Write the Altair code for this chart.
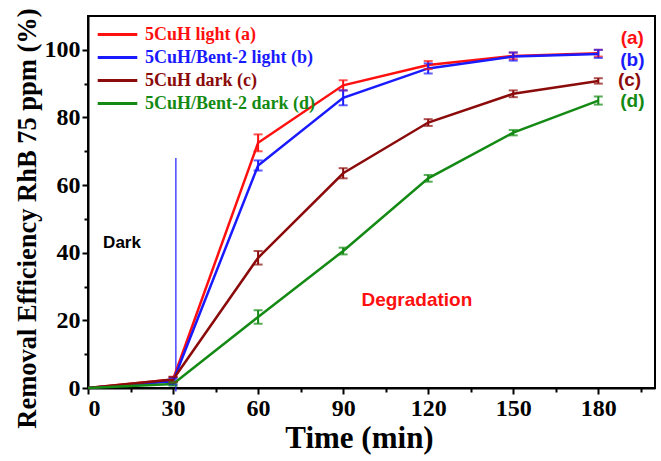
import altair as alt
import pandas as pd

time = [0, 30, 60, 90, 120, 150, 180]
series_names = ["5CuH light (a)", "5CuH/Bent-2 light (b)", "5CuH dark (c)", "5CuH/Bent-2 dark (d)"]
a_vals = [0, 2.5, 72.5, 89.5, 95.5, 98.2, 99.0]
a_err = [0, 0.8, 2.5, 1.5, 1.2, 1.0, 1.0]
b_vals = [0, 2.0, 65.8, 85.8, 94.5, 98.0, 98.8]
b_err = [0, 1.0, 1.5, 2.2, 1.5, 1.2, 1.2]
c_vals = [0, 2.5, 38.5, 63.5, 78.5, 87.0, 90.8]
c_err = [0, 0.8, 2.0, 1.5, 1.0, 1.0, 0.8]
d_vals = [0, 1.2, 21.0, 40.5, 62.0, 75.5, 85.0]
d_err = [0, 0.5, 2.0, 1.0, 1.0, 0.8, 1.2]
colors = ["#ff1010", "#1a1aff", "#8b0a0a", "#148a14"]

tags = ["(a)", "(b)", "(c)", "(d)"]
tag_x = [192, 192, 191, 192]
tag_y = [103.5, 97, 91, 85]

rows = []
for name, vals, errs in zip(series_names, [a_vals, b_vals, c_vals, d_vals], [a_err, b_err, c_err, d_err]):
    for t, v, e in zip(time, vals, errs):
        rows.append({"series": name, "time": t, "value": v, "lo": v - e, "hi": v + e})
df = pd.DataFrame(rows)
df_err = df[df["time"] > 0]

tag_df = pd.DataFrame({"tag": tags, "x": tag_x, "y": tag_y, "series": series_names})

color_scale = alt.Scale(domain=series_names, range=colors)
xs = alt.Scale(domain=[0, 200], nice=False)
ys = alt.Scale(domain=[0, 110], nice=False)

serif = "Liberation Serif"
sans = "Liberation Sans"

x_axis = alt.Axis(values=[0, 30, 60, 90, 120, 150, 180], title="Time (min)", labelFont=serif,
                  labelFontSize=24, labelFontWeight="bold", titleFont=serif, titleFontSize=31,
                  titleFontWeight="bold", titleColor="black", labelColor="black", domainColor="black",
                  domainWidth=2, tickColor="black", tickWidth=2, tickSize=6, grid=False,
                  labelPadding=2, titlePadding=3, titleX=271, orient="bottom")
y_axis = alt.Axis(values=[0, 20, 40, 60, 80, 100], title="Removal Efficiency RhB 75 ppm (%)",
                  labelFont=serif, labelFontSize=24, labelFontWeight="bold", titleFont=serif,
                  titleFontSize=26.5, titleFontWeight="bold", titleColor="black", labelColor="black",
                  domainColor="black", domainWidth=2, tickColor="black", tickWidth=2, tickSize=6,
                  grid=False, labelPadding=2, titlePadding=3, titleY=202, orient="left")

def X(f):
    return alt.X(f, scale=xs, axis=None)

def Y(f):
    return alt.Y(f, scale=ys, axis=None)

lines = alt.Chart(df).mark_line(strokeWidth=2.5).encode(
    x=alt.X("time:Q", scale=xs, axis=x_axis),
    y=alt.Y("value:Q", scale=ys, axis=y_axis),
    color=alt.Color("series:N", scale=color_scale, sort=series_names,
                    legend=alt.Legend(orient="none", legendX=19, legendY=8, title=None, padding=0,
                                      symbolType="M-2.2,0H2.2", symbolSize=324, symbolStrokeWidth=3,
                                      labelFont=serif, labelFontSize=18, labelFontWeight="bold",
                                      rowPadding=3, labelOffset=17, labelLimit=400,
                                      labelColor=alt.ExprRef("scale('color', datum.value)"))),
)

err_rule = alt.Chart(df_err).mark_rule(strokeWidth=2).encode(
    x=X("time:Q"), y=Y("lo:Q"), y2="hi:Q",
    color=alt.Color("series:N", scale=color_scale, legend=None),
)
err_lo = alt.Chart(df_err).mark_tick(orient="horizontal", size=9, thickness=2).encode(
    x=X("time:Q"), y=Y("lo:Q"), color=alt.Color("series:N", scale=color_scale, legend=None),
)
err_hi = alt.Chart(df_err).mark_tick(orient="horizontal", size=9, thickness=2).encode(
    x=X("time:Q"), y=Y("hi:Q"), color=alt.Color("series:N", scale=color_scale, legend=None),
)

minor_x = alt.Chart(pd.DataFrame({"t": [15]})).mark_point(opacity=0).encode(
    x=alt.X("t:Q", scale=xs, axis=alt.Axis(values=[15, 45, 75, 105, 135, 165, 195], labels=False,
                                             title=None, domain=False, tickColor="black", tickWidth=2,
                                             tickSize=4, grid=False, orient="bottom")),
)
minor_y = alt.Chart(pd.DataFrame({"v": [10]})).mark_point(opacity=0).encode(
    y=alt.Y("v:Q", scale=ys, axis=alt.Axis(values=[10, 30, 50, 70, 90], labels=False,
                                             title=None, domain=False, tickColor="black", tickWidth=2,
                                             tickSize=4, grid=False, orient="left")),
)

divider_x = [31]
divider_y = [-1]
divider_y2 = [68]
divider = alt.Chart(pd.DataFrame({"x": divider_x, "y": divider_y, "y2": divider_y2})).mark_rule(
    color="#1a1aff", strokeWidth=1.2).encode(x=X("x:Q"), y=Y("y:Q"), y2="y2:Q")

tags_chart = alt.Chart(tag_df).mark_text(font=sans, fontSize=19, fontWeight="bold").encode(
    x=X("x:Q"), y=Y("y:Q"), text="tag:N",
    color=alt.Color("series:N", scale=color_scale, legend=None),
)

notes_df = pd.DataFrame({"text": ["Dark", "Degradation"], "x": [12, 116], "y": [43, 26],
                         "col": ["black", "#ff1010"], "size": [17, 19]})
notes = alt.Chart(notes_df).mark_text(font=sans, fontWeight="bold").encode(
    x=X("x:Q"), y=Y("y:Q"), text="text:N", color=alt.Color("col:N", scale=None),
    size=alt.Size("size:Q", scale=None),
)

chart = alt.layer(minor_x, minor_y, divider, lines, err_rule, err_lo, err_hi, tags_chart, notes).properties(
    width=567, height=372,
    autosize=alt.AutoSizeParams(type="none"),
    padding={"left": 88, "top": 16, "right": 6, "bottom": 73},
).resolve_axis(x="independent", y="independent").configure(
    background="white", view=alt.ViewConfig(stroke="black", strokeWidth=2))

chart.save("out.html", embed_options={"renderer": "svg", "actions": False})
